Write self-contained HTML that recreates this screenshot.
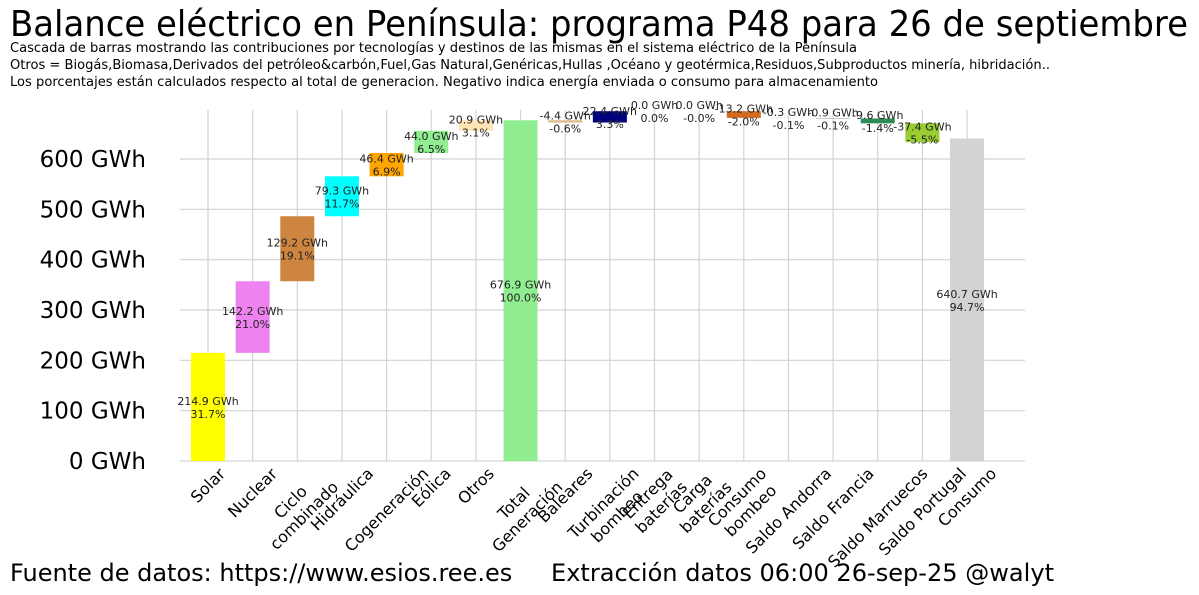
<!DOCTYPE html>
<html><head><meta charset="utf-8"><style>
body{margin:0;background:#fff}
svg{display:block;font-family:"DejaVu Sans","Liberation Sans",sans-serif}
</style></head><body>
<svg id="chart" width="1199" height="595" viewBox="0 0 1199 595">
<text x="10" y="36" font-size="36" textLength="1178" lengthAdjust="spacingAndGlyphs" fill="#000">Balance eléctrico en Península: programa P48 para 26 de septiembre</text>
<text x="10" y="52" font-size="13" textLength="847" lengthAdjust="spacingAndGlyphs">Cascada de barras mostrando las contribuciones por tecnologías y destinos de las mismas en el sistema eléctrico de la Península</text>
<text x="10" y="69" font-size="13" textLength="1040" lengthAdjust="spacingAndGlyphs">Otros = Biogás,Biomasa,Derivados del petróleo&amp;carbón,Fuel,Gas Natural,Genéricas,Hullas ,Océano y geotérmica,Residuos,Subproductos minería, hibridación..</text>
<text x="10" y="86" font-size="13" textLength="868" lengthAdjust="spacingAndGlyphs">Los porcentajes están calculados respecto al total de generacion. Negativo indica energía enviada o consumo para almacenamiento</text>
<g id="grid"></g><g id="bars"></g><g id="labels"></g><g id="yt"></g><g id="xt"></g>
<text x="10" y="581" font-size="24">Fuente de datos: https://www.esios.ree.es</text>
<text x="551" y="581" font-size="24" textLength="503" lengthAdjust="spacingAndGlyphs">Extracción datos 06:00 26-sep-25   @walyt</text>
</svg>
<script>
const categories=["Solar","Nuclear","Ciclo\ncombinado","Hidráulica","Cogeneración","Eólica","Otros","Total\nGeneración","Baleares","Turbinación\nbombeo","Entrega\nbaterías","Carga\nbaterías","Consumo\nbombeo","Saldo Andorra","Saldo Francia","Saldo Marruecos","Saldo Portugal","Consumo"];
const values=[214.9,142.2,129.2,79.3,46.4,44.0,20.9,676.9,-4.4,22.4,0.0,-0.0,-13.2,-0.3,-0.9,-9.6,-37.4,640.7];
const percents=["31.7%","21.0%","19.1%","11.7%","6.9%","6.5%","3.1%","100.0%","-0.6%","3.3%","0.0%","-0.0%","-2.0%","-0.1%","-0.1%","-1.4%","-5.5%","94.7%"];
const isTotal=[0,0,0,0,0,0,0,1,0,0,0,0,0,0,0,0,0,1];
const colors=["#ffff00","#ee82ee","#cd853f","#00ffff","#ffa500","#90ee90","#ffe4b5","#90ee90","#deb887","#000080","#888888","#888888","#d2691e","#888888","#888888","#2e8b57","#9acd32","#d3d3d3"];
const yTicks=[0,100,200,300,400,500,600];
const NS="http://www.w3.org/2000/svg";
const y=v=>461-v*302/600;
const x=i=>208+i*44.65;
const bw=34;
function mk(tag,attrs,parent){const e=document.createElementNS(NS,tag);for(const k in attrs)e.setAttribute(k,attrs[k]);parent.appendChild(e);return e;}
const svg=document.getElementById('chart');
const G=document.getElementById('grid'),B=document.getElementById('bars'),L=document.getElementById('labels'),YT=document.getElementById('yt'),XT=document.getElementById('xt');
yTicks.forEach(t=>{
 const l=mk('line',{x1:180,x2:1025,y1:y(t),y2:y(t),stroke:'#d3d3d3','stroke-width':1.2},G);
 
 
 const tx=mk('text',{x:146,y:y(t)+8,'font-size':23,'text-anchor':'end'},YT);
 tx.textContent=t+' GWh';
 
 
});
categories.forEach((c,i)=>{
 const l=mk('line',{x1:x(i),x2:x(i),y1:110,y2:461,stroke:'#d3d3d3','stroke-width':1.2},G);
 
 
});
let cum=0;
const svgRect=svg.getBoundingClientRect();
values.forEach((v,i)=>{
 let a,b;
 if(isTotal[i]){a=0;b=v;cum=v;}else{a=cum;b=cum+v;cum=b;}
 const top=Math.max(a,b),bot=Math.min(a,b);
 let h=y(bot)-y(top); if(h<2&&Math.abs(v)>2)h=2;
 if(Math.abs(v)>=0.05){
  const r=mk('rect',{x:x(i)-bw/2,y:y(top),width:bw,height:h,fill:colors[i]},B);
  
  
 }
 const mid=y((a+b)/2);
 const t=mk('text',{x:x(i),y:mid-2,'font-size':11,'text-anchor':'middle',fill:'#222'},L);
 t.textContent=v.toFixed(1)+' GWh';
 
 
 const p=mk('text',{x:x(i),y:mid+11,'font-size':11,'text-anchor':'middle',fill:'#222'},L);
 p.textContent=percents[i];
 
 
 const lines=categories[i].split('\n');
 const outer=mk('g',{},XT);
 const inner=mk('g',{transform:'rotate(-45)'},outer);
 const g=mk('text',{'font-size':16,'text-anchor':'middle'},inner);
 
 
 lines.forEach((ln,k)=>{const ts=mk('tspan',{x:0,dy:k===0?0:19},g);ts.textContent=ln;});
 const bb=inner.getBoundingClientRect();
 const cx=(bb.left+bb.right)/2-svgRect.left, ty=bb.top-svgRect.top;
 outer.setAttribute('transform',`translate(${x(i)-cx},${464-ty})`);
});
</script>
</body></html>
